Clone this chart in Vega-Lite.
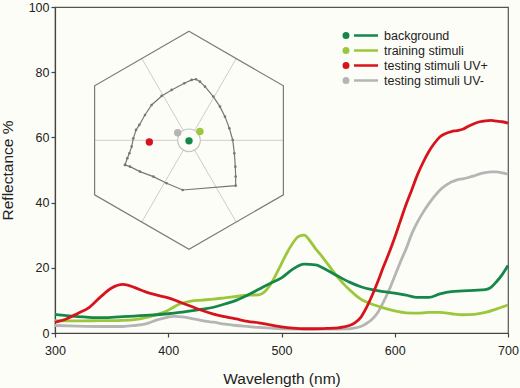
{
  "$schema": "https://vega.github.io/schema/vega-lite/v6.json",
  "width": 453,
  "height": 326,
  "autosize": {"type": "none"},
  "padding": {"left": 55, "top": 7, "right": 12, "bottom": 55},
  "background": "#fdfdf8",
  "config": {
    "font": "Liberation Sans",
    "view": {"stroke": "#555555", "strokeWidth": 1.2},
    "axis": {
      "grid": false,
      "labelFlush": false,
      "domainColor": "#444444",
      "domainWidth": 1.2,
      "tickColor": "#444444",
      "tickWidth": 1.2,
      "tickSize": 4,
      "labelColor": "#222222",
      "titleColor": "#222222",
      "labelFontSize": 12.5,
      "titleFontSize": 15.5,
      "titleFontWeight": "normal"
    }
  },
  "datasets": {
    "hexagon": [
      {"k": 1, "hx": 0, "hy": 1},
      {"k": 2, "hx": 0.866, "hy": 0.5},
      {"k": 3, "hx": 0.866, "hy": -0.5},
      {"k": 4, "hx": 0, "hy": -1},
      {"k": 5, "hx": -0.866, "hy": -0.5},
      {"k": 6, "hx": -0.866, "hy": 0.5},
      {"k": 7, "hx": 0, "hy": 1}
    ],
    "spokes": [
      {"hx": 0.104, "hy": 0, "hx2": 0.866, "hy2": 0},
      {"hx": 0.052, "hy": 0.09, "hx2": 0.433, "hy2": 0.75},
      {"hx": -0.052, "hy": 0.09, "hx2": -0.433, "hy2": 0.75},
      {"hx": -0.104, "hy": 0, "hx2": -0.866, "hy2": 0},
      {"hx": -0.052, "hy": -0.09, "hx2": -0.433, "hy2": -0.75},
      {"hx": 0.052, "hy": -0.09, "hx2": 0.433, "hy2": -0.75}
    ],
    "locus": [
      {"k": 1, "hx": -0.587, "hy": -0.226},
      {"k": 2, "hx": -0.566, "hy": -0.165},
      {"k": 3, "hx": -0.547, "hy": -0.119},
      {"k": 4, "hx": -0.526, "hy": -0.058},
      {"k": 5, "hx": -0.511, "hy": 0.018},
      {"k": 6, "hx": -0.486, "hy": 0.095},
      {"k": 7, "hx": -0.456, "hy": 0.141},
      {"k": 8, "hx": -0.404, "hy": 0.232},
      {"k": 9, "hx": -0.343, "hy": 0.324},
      {"k": 10, "hx": -0.251, "hy": 0.407},
      {"k": 11, "hx": -0.159, "hy": 0.462},
      {"k": 12, "hx": -0.043, "hy": 0.523},
      {"k": 13, "hx": 0.024, "hy": 0.554},
      {"k": 14, "hx": 0.064, "hy": 0.56},
      {"k": 15, "hx": 0.101, "hy": 0.538},
      {"k": 16, "hx": 0.147, "hy": 0.492},
      {"k": 17, "hx": 0.223, "hy": 0.401},
      {"k": 18, "hx": 0.284, "hy": 0.309},
      {"k": 19, "hx": 0.33, "hy": 0.217},
      {"k": 20, "hx": 0.37, "hy": 0.11},
      {"k": 21, "hx": 0.401, "hy": 0.003},
      {"k": 22, "hx": 0.416, "hy": -0.119},
      {"k": 23, "hx": 0.425, "hy": -0.242},
      {"k": 24, "hx": 0.428, "hy": -0.333},
      {"k": 25, "hx": 0.428, "hy": -0.416},
      {"k": 26, "hx": -0.058, "hy": -0.456},
      {"k": 27, "hx": -0.205, "hy": -0.394},
      {"k": 28, "hx": -0.327, "hy": -0.333},
      {"k": 29, "hx": -0.45, "hy": -0.287},
      {"k": 30, "hx": -0.541, "hy": -0.242},
      {"k": 31, "hx": -0.587, "hy": -0.226}
    ],
    "loci": [
      {"series": "background", "hx": 0.0, "hy": -0.005},
      {"series": "training stimuli", "hx": 0.1, "hy": 0.08},
      {"series": "testing stimuli UV+", "hx": -0.364, "hy": -0.015},
      {"series": "testing stimuli UV-", "hx": -0.104, "hy": 0.07}
    ],
    "spectra": [
      {"series": "testing stimuli UV-", "wl": 300, "r": 2.3},
      {"series": "testing stimuli UV-", "wl": 320, "r": 2.1},
      {"series": "testing stimuli UV-", "wl": 340, "r": 2.0},
      {"series": "testing stimuli UV-", "wl": 360, "r": 2.0},
      {"series": "testing stimuli UV-", "wl": 370, "r": 2.3},
      {"series": "testing stimuli UV-", "wl": 380, "r": 2.8},
      {"series": "testing stimuli UV-", "wl": 390, "r": 4.0},
      {"series": "testing stimuli UV-", "wl": 400, "r": 4.9},
      {"series": "testing stimuli UV-", "wl": 405, "r": 5.1},
      {"series": "testing stimuli UV-", "wl": 410, "r": 5.0},
      {"series": "testing stimuli UV-", "wl": 420, "r": 4.5},
      {"series": "testing stimuli UV-", "wl": 430, "r": 3.8},
      {"series": "testing stimuli UV-", "wl": 440, "r": 3.3},
      {"series": "testing stimuli UV-", "wl": 450, "r": 2.7},
      {"series": "testing stimuli UV-", "wl": 460, "r": 2.3},
      {"series": "testing stimuli UV-", "wl": 470, "r": 2.0},
      {"series": "testing stimuli UV-", "wl": 480, "r": 1.7},
      {"series": "testing stimuli UV-", "wl": 490, "r": 1.5},
      {"series": "testing stimuli UV-", "wl": 500, "r": 1.3},
      {"series": "testing stimuli UV-", "wl": 520, "r": 1.2},
      {"series": "testing stimuli UV-", "wl": 540, "r": 1.2},
      {"series": "testing stimuli UV-", "wl": 560, "r": 1.3},
      {"series": "testing stimuli UV-", "wl": 565, "r": 1.6},
      {"series": "testing stimuli UV-", "wl": 570, "r": 2.0},
      {"series": "testing stimuli UV-", "wl": 575, "r": 2.9},
      {"series": "testing stimuli UV-", "wl": 580, "r": 4.2},
      {"series": "testing stimuli UV-", "wl": 585, "r": 6.3},
      {"series": "testing stimuli UV-", "wl": 590, "r": 9.5},
      {"series": "testing stimuli UV-", "wl": 595, "r": 13.2},
      {"series": "testing stimuli UV-", "wl": 600, "r": 17.5},
      {"series": "testing stimuli UV-", "wl": 605, "r": 21.8},
      {"series": "testing stimuli UV-", "wl": 610, "r": 25.8},
      {"series": "testing stimuli UV-", "wl": 615, "r": 30.4},
      {"series": "testing stimuli UV-", "wl": 620, "r": 34.0},
      {"series": "testing stimuli UV-", "wl": 625, "r": 37.0},
      {"series": "testing stimuli UV-", "wl": 630, "r": 39.6},
      {"series": "testing stimuli UV-", "wl": 635, "r": 41.9},
      {"series": "testing stimuli UV-", "wl": 640, "r": 43.9},
      {"series": "testing stimuli UV-", "wl": 645, "r": 45.3},
      {"series": "testing stimuli UV-", "wl": 650, "r": 46.3},
      {"series": "testing stimuli UV-", "wl": 655, "r": 47.0},
      {"series": "testing stimuli UV-", "wl": 660, "r": 47.3},
      {"series": "testing stimuli UV-", "wl": 665, "r": 47.7},
      {"series": "testing stimuli UV-", "wl": 670, "r": 48.2},
      {"series": "testing stimuli UV-", "wl": 675, "r": 48.8},
      {"series": "testing stimuli UV-", "wl": 680, "r": 49.2},
      {"series": "testing stimuli UV-", "wl": 685, "r": 49.4},
      {"series": "testing stimuli UV-", "wl": 690, "r": 49.4},
      {"series": "testing stimuli UV-", "wl": 695, "r": 49.1},
      {"series": "testing stimuli UV-", "wl": 700, "r": 48.7},

      {"series": "training stimuli", "wl": 300, "r": 3.8},
      {"series": "training stimuli", "wl": 320, "r": 3.7},
      {"series": "training stimuli", "wl": 340, "r": 3.8},
      {"series": "training stimuli", "wl": 360, "r": 3.9},
      {"series": "training stimuli", "wl": 370, "r": 4.1},
      {"series": "training stimuli", "wl": 380, "r": 4.7},
      {"series": "training stimuli", "wl": 390, "r": 5.7},
      {"series": "training stimuli", "wl": 400, "r": 7.0},
      {"series": "training stimuli", "wl": 410, "r": 8.9},
      {"series": "training stimuli", "wl": 420, "r": 9.8},
      {"series": "training stimuli", "wl": 430, "r": 10.1},
      {"series": "training stimuli", "wl": 440, "r": 10.4},
      {"series": "training stimuli", "wl": 450, "r": 10.8},
      {"series": "training stimuli", "wl": 460, "r": 11.2},
      {"series": "training stimuli", "wl": 470, "r": 11.6},
      {"series": "training stimuli", "wl": 480, "r": 11.7},
      {"series": "training stimuli", "wl": 485, "r": 12.6},
      {"series": "training stimuli", "wl": 490, "r": 14.7},
      {"series": "training stimuli", "wl": 495, "r": 17.8},
      {"series": "training stimuli", "wl": 500, "r": 21.3},
      {"series": "training stimuli", "wl": 505, "r": 24.7},
      {"series": "training stimuli", "wl": 510, "r": 27.6},
      {"series": "training stimuli", "wl": 515, "r": 29.6},
      {"series": "training stimuli", "wl": 520, "r": 30.0},
      {"series": "training stimuli", "wl": 525, "r": 28.3},
      {"series": "training stimuli", "wl": 530, "r": 25.9},
      {"series": "training stimuli", "wl": 535, "r": 23.8},
      {"series": "training stimuli", "wl": 540, "r": 21.5},
      {"series": "training stimuli", "wl": 545, "r": 19.2},
      {"series": "training stimuli", "wl": 550, "r": 17.0},
      {"series": "training stimuli", "wl": 555, "r": 15.0},
      {"series": "training stimuli", "wl": 560, "r": 13.3},
      {"series": "training stimuli", "wl": 565, "r": 11.7},
      {"series": "training stimuli", "wl": 570, "r": 10.4},
      {"series": "training stimuli", "wl": 575, "r": 9.5},
      {"series": "training stimuli", "wl": 580, "r": 8.8},
      {"series": "training stimuli", "wl": 590, "r": 7.7},
      {"series": "training stimuli", "wl": 600, "r": 6.8},
      {"series": "training stimuli", "wl": 610, "r": 6.2},
      {"series": "training stimuli", "wl": 620, "r": 6.1},
      {"series": "training stimuli", "wl": 630, "r": 6.3},
      {"series": "training stimuli", "wl": 640, "r": 6.3},
      {"series": "training stimuli", "wl": 650, "r": 5.9},
      {"series": "training stimuli", "wl": 660, "r": 5.6},
      {"series": "training stimuli", "wl": 670, "r": 5.7},
      {"series": "training stimuli", "wl": 680, "r": 6.3},
      {"series": "training stimuli", "wl": 690, "r": 7.4},
      {"series": "training stimuli", "wl": 700, "r": 8.6},

      {"series": "background", "wl": 300, "r": 5.7},
      {"series": "background", "wl": 310, "r": 5.3},
      {"series": "background", "wl": 320, "r": 5.0},
      {"series": "background", "wl": 330, "r": 4.8},
      {"series": "background", "wl": 340, "r": 4.7},
      {"series": "background", "wl": 350, "r": 4.8},
      {"series": "background", "wl": 360, "r": 5.0},
      {"series": "background", "wl": 370, "r": 5.2},
      {"series": "background", "wl": 380, "r": 5.4},
      {"series": "background", "wl": 390, "r": 5.6},
      {"series": "background", "wl": 400, "r": 5.9},
      {"series": "background", "wl": 410, "r": 6.3},
      {"series": "background", "wl": 420, "r": 6.8},
      {"series": "background", "wl": 430, "r": 7.3},
      {"series": "background", "wl": 440, "r": 7.9},
      {"series": "background", "wl": 450, "r": 8.9},
      {"series": "background", "wl": 460, "r": 10.0},
      {"series": "background", "wl": 470, "r": 11.6},
      {"series": "background", "wl": 480, "r": 13.4},
      {"series": "background", "wl": 490, "r": 15.2},
      {"series": "background", "wl": 500, "r": 16.9},
      {"series": "background", "wl": 510, "r": 19.6},
      {"series": "background", "wl": 520, "r": 21.1},
      {"series": "background", "wl": 530, "r": 20.9},
      {"series": "background", "wl": 540, "r": 19.3},
      {"series": "background", "wl": 550, "r": 17.4},
      {"series": "background", "wl": 560, "r": 15.6},
      {"series": "background", "wl": 570, "r": 14.2},
      {"series": "background", "wl": 580, "r": 13.3},
      {"series": "background", "wl": 590, "r": 12.7},
      {"series": "background", "wl": 600, "r": 12.2},
      {"series": "background", "wl": 610, "r": 11.6},
      {"series": "background", "wl": 620, "r": 10.9},
      {"series": "background", "wl": 630, "r": 10.9},
      {"series": "background", "wl": 640, "r": 12.0},
      {"series": "background", "wl": 650, "r": 12.7},
      {"series": "background", "wl": 660, "r": 12.9},
      {"series": "background", "wl": 670, "r": 13.1},
      {"series": "background", "wl": 680, "r": 13.3},
      {"series": "background", "wl": 685, "r": 14.0},
      {"series": "background", "wl": 690, "r": 15.8},
      {"series": "background", "wl": 695, "r": 18.0},
      {"series": "background", "wl": 700, "r": 20.7},

      {"series": "testing stimuli UV+", "wl": 300, "r": 3.3},
      {"series": "testing stimuli UV+", "wl": 310, "r": 4.3},
      {"series": "testing stimuli UV+", "wl": 320, "r": 6.0},
      {"series": "testing stimuli UV+", "wl": 330, "r": 7.8},
      {"series": "testing stimuli UV+", "wl": 340, "r": 11.0},
      {"series": "testing stimuli UV+", "wl": 350, "r": 13.8},
      {"series": "testing stimuli UV+", "wl": 360, "r": 14.9},
      {"series": "testing stimuli UV+", "wl": 370, "r": 14.0},
      {"series": "testing stimuli UV+", "wl": 380, "r": 12.6},
      {"series": "testing stimuli UV+", "wl": 390, "r": 11.6},
      {"series": "testing stimuli UV+", "wl": 400, "r": 10.8},
      {"series": "testing stimuli UV+", "wl": 410, "r": 9.5},
      {"series": "testing stimuli UV+", "wl": 420, "r": 8.2},
      {"series": "testing stimuli UV+", "wl": 430, "r": 6.9},
      {"series": "testing stimuli UV+", "wl": 440, "r": 5.8},
      {"series": "testing stimuli UV+", "wl": 450, "r": 5.0},
      {"series": "testing stimuli UV+", "wl": 460, "r": 4.3},
      {"series": "testing stimuli UV+", "wl": 470, "r": 3.6},
      {"series": "testing stimuli UV+", "wl": 480, "r": 3.1},
      {"series": "testing stimuli UV+", "wl": 490, "r": 2.5},
      {"series": "testing stimuli UV+", "wl": 500, "r": 1.9},
      {"series": "testing stimuli UV+", "wl": 510, "r": 1.5},
      {"series": "testing stimuli UV+", "wl": 520, "r": 1.3},
      {"series": "testing stimuli UV+", "wl": 530, "r": 1.3},
      {"series": "testing stimuli UV+", "wl": 540, "r": 1.4},
      {"series": "testing stimuli UV+", "wl": 550, "r": 1.6},
      {"series": "testing stimuli UV+", "wl": 555, "r": 1.9},
      {"series": "testing stimuli UV+", "wl": 560, "r": 2.3},
      {"series": "testing stimuli UV+", "wl": 565, "r": 3.2},
      {"series": "testing stimuli UV+", "wl": 570, "r": 4.8},
      {"series": "testing stimuli UV+", "wl": 575, "r": 7.8},
      {"series": "testing stimuli UV+", "wl": 580, "r": 11.5},
      {"series": "testing stimuli UV+", "wl": 585, "r": 15.7},
      {"series": "testing stimuli UV+", "wl": 590, "r": 20.3},
      {"series": "testing stimuli UV+", "wl": 595, "r": 24.6},
      {"series": "testing stimuli UV+", "wl": 600, "r": 29.3},
      {"series": "testing stimuli UV+", "wl": 605, "r": 34.4},
      {"series": "testing stimuli UV+", "wl": 610, "r": 39.4},
      {"series": "testing stimuli UV+", "wl": 615, "r": 43.9},
      {"series": "testing stimuli UV+", "wl": 620, "r": 48.5},
      {"series": "testing stimuli UV+", "wl": 625, "r": 52.3},
      {"series": "testing stimuli UV+", "wl": 630, "r": 55.6},
      {"series": "testing stimuli UV+", "wl": 635, "r": 58.2},
      {"series": "testing stimuli UV+", "wl": 640, "r": 60.2},
      {"series": "testing stimuli UV+", "wl": 645, "r": 61.2},
      {"series": "testing stimuli UV+", "wl": 650, "r": 61.8},
      {"series": "testing stimuli UV+", "wl": 655, "r": 62.1},
      {"series": "testing stimuli UV+", "wl": 660, "r": 62.5},
      {"series": "testing stimuli UV+", "wl": 665, "r": 63.4},
      {"series": "testing stimuli UV+", "wl": 670, "r": 64.2},
      {"series": "testing stimuli UV+", "wl": 675, "r": 64.8},
      {"series": "testing stimuli UV+", "wl": 680, "r": 65.1},
      {"series": "testing stimuli UV+", "wl": 685, "r": 65.2},
      {"series": "testing stimuli UV+", "wl": 690, "r": 65.0},
      {"series": "testing stimuli UV+", "wl": 695, "r": 64.8},
      {"series": "testing stimuli UV+", "wl": 700, "r": 64.4}
    ]
  },
  "layer": [
    {
      "encoding": {
        "x": {"field": "hx", "type": "quantitative", "axis": null, "scale": {"domain": [-1.2294, 2.9266], "nice": false, "zero": false}},
        "y": {"field": "hy", "type": "quantitative", "axis": null, "scale": {"domain": [-1.768, 1.223], "nice": false, "zero": false}}
      },
      "layer": [
        {
          "data": {"name": "spokes"},
          "mark": {"type": "rule", "color": "#cccccc", "strokeWidth": 1},
          "encoding": {"x2": {"field": "hx2"}, "y2": {"field": "hy2"}}
        },
        {
          "data": {"name": "hexagon"},
          "mark": {"type": "line", "color": "#7a7a7a", "strokeWidth": 1.2},
          "encoding": {"order": {"field": "k", "type": "quantitative"}}
        },
        {
          "data": {"values": [{"hx": 0, "hy": 0}]},
          "mark": {"type": "point", "filled": false, "size": 511, "color": "#c4c4c4", "strokeWidth": 1.2, "opacity": 1},
          "encoding": {}
        },
        {
          "data": {"name": "locus"},
          "mark": {"type": "line", "color": "#777777", "strokeWidth": 1.2, "point": {"filled": true, "size": 7, "color": "#777777"}},
          "encoding": {"order": {"field": "k", "type": "quantitative"}}
        },
        {
          "data": {"name": "loci"},
          "mark": {"type": "point", "filled": true, "size": 55, "opacity": 1},
          "encoding": {
            "color": {"field": "series", "type": "nominal", "legend": null}
          }
        }
      ]
    },
    {
      "data": {"name": "spectra"},
      "mark": {"type": "line", "strokeWidth": 2.8, "interpolate": "monotone"},
      "encoding": {
        "x": {
          "field": "wl", "type": "quantitative",
          "scale": {"domain": [300, 700], "nice": false, "zero": false},
          "axis": {"title": "Wavelength (nm)", "values": [300, 400, 500, 600, 700], "labelPadding": 7.5, "titlePadding": 14}
        },
        "y": {
          "field": "r", "type": "quantitative",
          "scale": {"domain": [0, 100], "nice": false},
          "axis": {"title": "Reflectance %", "values": [0, 20, 40, 60, 80, 100], "labelPadding": 2, "titlePadding": 13}
        },
        "color": {
          "field": "series", "type": "nominal",
          "scale": {
            "domain": ["background", "training stimuli", "testing stimuli UV+", "testing stimuli UV-"],
            "range": ["#15874a", "#9cc63b", "#d7141e", "#b5b5b5"]
          },
          "legend": {
            "title": null,
            "orient": "none",
            "legendX": 304.5,
            "legendY": 22,
            "symbolType": "M-4.45,0A0.45,0.45 0 1,0 -3.55,0A0.45,0.45 0 1,0 -4.45,0Z M-2.4,0L2.4,0",
            "symbolSize": 100,
            "symbolStrokeWidth": 2.5,
            "labelFontSize": 12.5,
            "labelColor": "#222222",
            "labelOffset": 11.5,
            "rowPadding": 0,
            "encode": {"symbols": {"update": {"fill": {"scale": "color", "field": "value"}}}}
          }
        }
      }
    }
  ],
  "resolve": {"scale": {"x": "independent", "y": "independent"}, "legend": {"color": "independent"}}
}
